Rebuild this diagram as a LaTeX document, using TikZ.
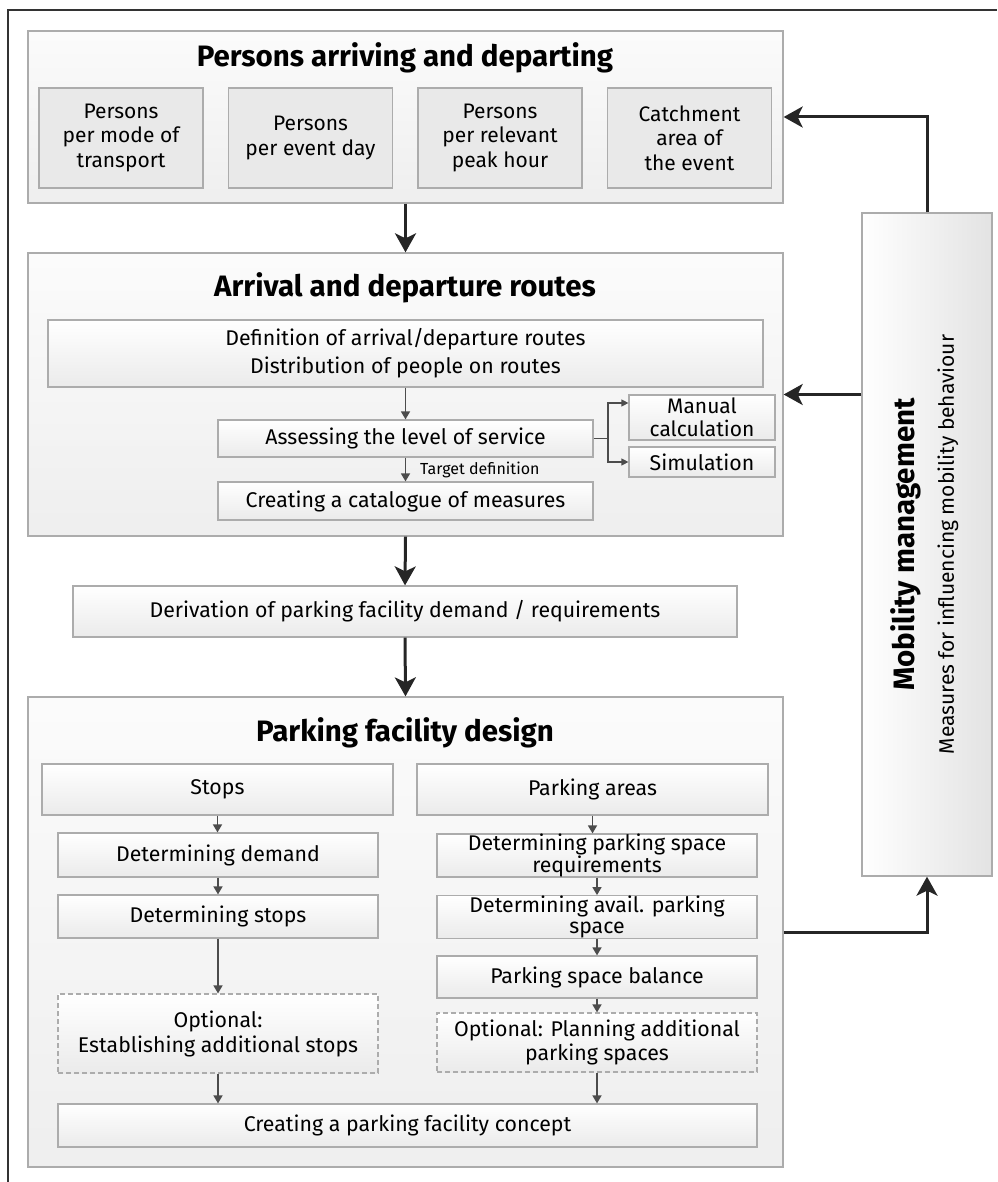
\documentclass[tikz,border=0pt]{standalone}
\usepackage{fontspec}
\setmainfont{Fira Sans}
\usetikzlibrary{arrows.meta}
\begin{document}
\begin{tikzpicture}[x=1pt,y=-1pt,
  grp/.style={draw=gray!65, line width=1.3pt, top color=gray!3, bottom color=gray!13, inner sep=0pt},
  pbox/.style={draw=gray!65, line width=1.2pt, fill=gray!17, align=center, font=\fontsize{21}{24.5}\selectfont, inner sep=0pt},
  box/.style={draw=gray!65, line width=1.2pt, top color=white, bottom color=gray!16, align=center, font=\fontsize{21.3}{25}\selectfont, inner sep=0pt},
  dbox/.style={box, dash pattern=on 5pt off 3pt},
  ttl/.style={font=\fontsize{29.5}{33}\selectfont\bfseries},
  big/.style={line width=3pt, draw=black!85, -{Stealth[length=19pt,width=21pt,inset=5pt]}},
  sm/.style={line width=1.5pt, draw=black!70, -{Triangle[length=8pt,width=9pt]}},
  br/.style={line width=1.2pt, draw=black!70, -{Triangle[length=7pt,width=7pt]}},
]
\useasboundingbox (0,0) rectangle (997,1182);
\draw[line width=1.5pt, black!80] (8,1182) -- (8,10) -- (997,10);

% group 1
\node[grp, minimum width=755pt, minimum height=172pt] (g1) at (405.5,117) {};
\node[ttl] (t1) at (405,58) {Persons arriving and departing};
\node[pbox, minimum width=164pt, minimum height=100pt] (p1) at (121,138) {Persons\\per mode of\\transport};
\node[pbox, minimum width=164pt, minimum height=100pt] (p2) at (310.5,138) {Persons\\per event day};
\node[pbox, minimum width=164pt, minimum height=100pt] (p3) at (500,138) {Persons\\per relevant\\peak hour};
\node[pbox, minimum width=164pt, minimum height=100pt] (p4) at (689.5,138) {Catchment\\area of\\the event};

% group 2
\node[grp, minimum width=755pt, minimum height=283pt] (g2) at (405.5,394.5) {};
\node[ttl] (t2) at (405,288) {Arrival and departure routes};
\node[box, minimum width=715pt, minimum height=67pt] (def) at (405.5,353.5) {Definition of arrival/departure routes\\[3pt]Distribution of people on routes};
\node[box, minimum width=375pt, minimum height=37pt] (ass) at (405.5,438.5) {Assessing the level of service};
\node[box, minimum width=375pt, minimum height=38pt] (cat) at (405.5,501) {Creating a catalogue of measures};
\node[box, minimum width=146pt, minimum height=45pt, font=\fontsize{21}{23}\selectfont] (man) at (702,417.5) {Manual\\calculation};
\node[box, minimum width=146pt, minimum height=30pt] (sim) at (702,462) {Simulation};
\node[anchor=west, font=\fontsize{16}{18}\selectfont, inner sep=0pt] (tdef) at (420,470) {Target definition};
\coordinate (brp) at (608,438.5);
\draw[sm] (def.south) -- (ass.north);
\draw[sm] (ass.south) -- (cat.north);
\draw[line width=1.2pt, black!70] (ass.east) -- (brp);
\draw[br] (brp) |- ([yshift=14.5pt]man.west);
\draw[br] (brp) |- (sim.west);

% derivation
\node[box, minimum width=664pt, minimum height=51pt] (der) at (405,611.5) {Derivation of parking facility demand / requirements};

% group 3
\node[grp, minimum width=755pt, minimum height=470pt] (g3) at (405.5,932) {};
\node[ttl] (t3) at (405,733) {Parking facility design};
\node[box, minimum width=351pt, minimum height=51pt] (stops) at (217.5,789.5) {Stops};
\node[box, minimum width=351pt, minimum height=51pt] (parea) at (592.5,789.5) {Parking areas};
\node[box, minimum width=320pt, minimum height=44pt] (dd) at (218,855) {Determining demand};
\node[box, minimum width=320pt, minimum height=43pt] (ds) at (218,916.5) {Determining stops};
\node[dbox, minimum width=320pt, minimum height=79pt] (os) at (218,1033.5) {Optional:\\Establishing additional stops};
\node[box, minimum width=320pt, minimum height=43pt, font=\fontsize{21.3}{21.5}\selectfont] (rq) at (597,855.5) {Determining parking space\\requirements};
\node[box, minimum width=320pt, minimum height=42pt, font=\fontsize{21.3}{21.5}\selectfont] (av) at (597,917) {Determining avail. parking\\space};
\node[box, minimum width=320pt, minimum height=42pt] (bal) at (597,977) {Parking space balance};
\node[dbox, minimum width=320pt, minimum height=59pt, font=\fontsize{21.3}{24}\selectfont] (op) at (597,1042.5) {Optional: Planning additional\\parking spaces};
\node[box, minimum width=699pt, minimum height=43pt] (con) at (407.5,1125.5) {Creating a parking facility concept};

\draw[sm] (stops.south) -- (stops.south |- dd.north);
\draw[sm] (dd.south) -- (ds.north);
\draw[sm] (ds.south) -- (os.north);
\draw[sm] (os.south) -- (os.south |- con.north);
\draw[sm] (parea.south) -- (parea.south |- rq.north);
\draw[sm] (rq.south) -- (av.north);
\draw[sm] (av.south) -- (bal.north);
\draw[sm] (bal.south) -- (op.north);
\draw[sm] (op.south) -- (op.south |- con.north);

% mobility
\node[draw=gray!65, line width=1.3pt, left color=white, right color=gray!22, minimum width=130pt, minimum height=663pt, inner sep=0pt] (mob) at (927,544.5) {};
\node[rotate=90, font=\fontsize{29.5}{33}\selectfont\bfseries] (mt1) at (906,544.5) {Mobility management};
\node[rotate=90, font=\fontsize{21}{24}\selectfont] (mt2) at (948,544.5) {Measures for influencing mobility behaviour};

% main arrows
\draw[big] (g1.south) -- (g2.north);
\draw[big] (g2.south) -- (der.north);
\draw[big] (der.south) -- (g3.north);
\draw[big] (mob.north) |- (g1.east);
\draw[big] (mob.west |- g2.east) -- (g2.east);
\draw[big] (g3.east) -| (mob.south);
\end{tikzpicture}
\end{document}
